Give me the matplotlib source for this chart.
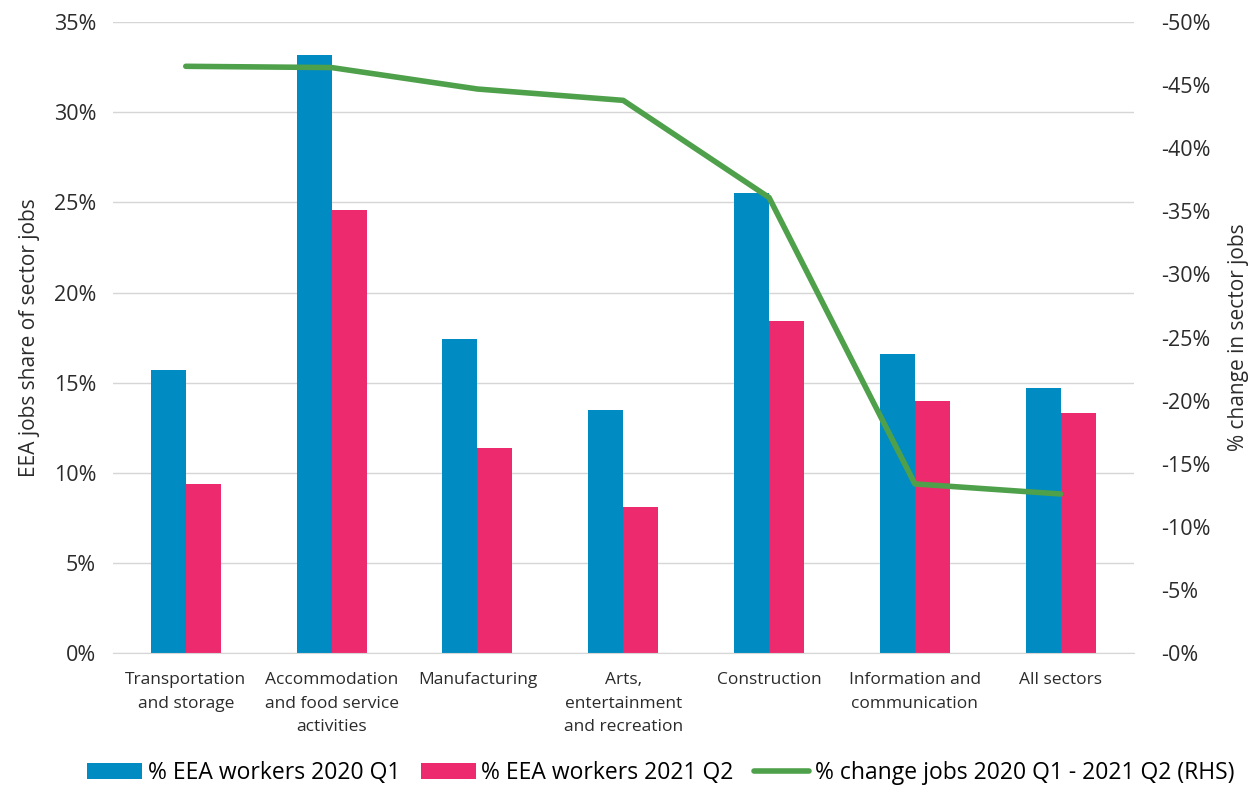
import matplotlib
matplotlib.use("Agg")
import matplotlib.pyplot as plt
import numpy as np

plt.rcParams['font.family'] = ['Open Sans', 'DejaVu Sans']

# data
sectors = ["Transportation\nand storage", "Accommodation\nand food service\nactivities",
           "Manufacturing", "Arts,\nentertainment\nand recreation", "Construction",
           "Information and\ncommunication", "All sectors"]
eea_2020q1 = [15.7, 33.2, 17.4, 13.5, 25.5, 16.6, 14.7]
eea_2021q2 = [9.4, 24.6, 11.4, 8.1, 18.4, 14.0, 13.3]
change_jobs = [-46.5, -46.4, -44.7, -43.8, -36.1, -13.4, -12.6]

blue = "#008BC2"
pink = "#EE2A6E"
green = "#4EA04A"
txt = "#2b2b2b"

fig = plt.figure(figsize=(12.54, 7.91), dpi=100)
ax = fig.add_axes([0.090, 0.1745, 0.814, 0.7975])
ax2 = ax.twinx()

x = np.arange(len(sectors))
w = 0.24
b1 = ax.bar(x - w/2, eea_2020q1, w, color=blue, label="% EEA workers 2020 Q1", zorder=2)
b2 = ax.bar(x + w/2, eea_2021q2, w, color=pink, label="% EEA workers 2021 Q2", zorder=2)
l1, = ax2.plot(x, change_jobs, color=green, lw=4, solid_capstyle='round',
               label="% change jobs 2020 Q1 - 2021 Q2 (RHS)")

ax.set_xlim(-0.5, len(sectors) - 0.5)
ax.set_ylim(0, 35)
ax.set_yticks(range(0, 36, 5))
ax.set_yticklabels([f"{v}%" for v in range(0, 36, 5)], fontsize=15.5, color=txt)
ax.set_xticks(x)
ax.set_xticklabels(sectors, fontsize=12.5, color=txt, linespacing=1.6)
ax.tick_params(axis='both', length=0)
ax.tick_params(axis='x', pad=14)
ax.tick_params(axis='y', pad=12)
ax.grid(axis='y', color="#d6d6d6", lw=1, zorder=0)
ax.set_axisbelow(True)
for s in ["top", "left", "right"]:
    ax.spines[s].set_visible(False)
ax.spines["bottom"].set_color("#d6d6d6")
ax.set_ylabel("EEA jobs share of sector jobs", fontsize=15, color=txt, labelpad=10)

ax2.set_ylim(0, -50)
ax2.set_yticks(range(0, -51, -5))
ax2.set_yticklabels([f"-{abs(v)}%" for v in range(0, -51, -5)], fontsize=15.5, color=txt)
ax2.tick_params(axis='y', length=0, pad=20)
for s in ["top", "left", "right", "bottom"]:
    ax2.spines[s].set_visible(False)
ax2.set_ylabel("% change in sector jobs", fontsize=15, color=txt, labelpad=12)

fig.legend(handles=[b1, b2, l1], loc="lower center", bbox_to_anchor=(0.527, -0.018), ncol=3,
           frameon=False, fontsize=16.5, handlelength=2.4, columnspacing=0.9, handletextpad=0.25)

fig.savefig("out.png", dpi=100)
